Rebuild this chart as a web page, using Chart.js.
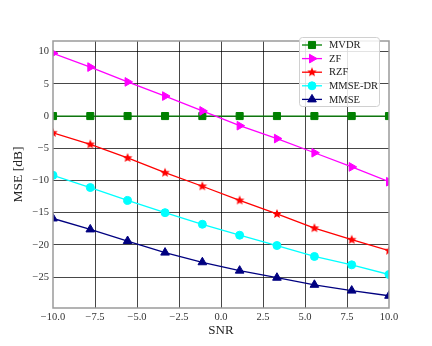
<!DOCTYPE html>
<html>
<head>
<meta charset="utf-8">
<script src="https://cdn.jsdelivr.net/npm/chart.js@4.4.0/dist/chart.umd.min.js"></script>
<style>
  body { margin: 0; background: #fff; }
  #wrap { width: 432px; height: 346px; }
</style>
</head>
<body>
<div id="wrap"><canvas id="mseChart" width="432" height="346"></canvas></div>
<script>
// SNR points and MSE curves
const snr = [-10, -7.78, -5.56, -3.33, -1.11, 1.11, 3.33, 5.56, 7.78, 10];
const mvdr = [0, 0, 0, 0, 0, 0, 0, 0, 0, 0];
const zf = [9.75, 7.6, 5.3, 3.1, 0.8, -1.5, -3.5, -5.7, -7.9, -10.2];
const rzf = [-2.6, -4.4, -6.5, -8.8, -10.9, -13.1, -15.2, -17.4, -19.2, -20.9];
const mmseDr = [-9.2, -11.1, -13.1, -15.0, -16.8, -18.5, -20.1, -21.8, -23.1, -24.6];
const mmse = [-15.9, -17.6, -19.4, -21.2, -22.7, -24.0, -25.1, -26.2, -27.1, -27.9];

const xTicks = [-10, -7.5, -5, -2.5, 0, 2.5, 5, 7.5, 10];
const yTicks = [-25, -20, -15, -10, -5, 0, 5, 10];

const serif = "'Liberation Serif', 'DejaVu Serif', serif";
const minus = s => s.replace('-', '\u2212');

// filled five-point star used as marker for RZF
function makeStar(color, r) {
  const c = document.createElement('canvas');
  const s = Math.ceil(r * 2 + 2);
  c.width = s; c.height = s;
  const g = c.getContext('2d');
  g.beginPath();
  for (let i = 0; i < 10; i++) {
    const rad = i % 2 === 0 ? r : r * 0.45;
    const a = -Math.PI / 2 + i * Math.PI / 5;
    g.lineTo(s / 2 + rad * Math.cos(a), s / 2 + rad * Math.sin(a));
  }
  g.closePath();
  g.fillStyle = color;
  g.fill();
  return c;
}

function series(label, values, color, style, extra) {
  return Object.assign({
    label: label,
    data: values.map((v, i) => ({ x: snr[i], y: v })),
    borderColor: color,
    backgroundColor: color,
    borderWidth: 1.3,
    pointStyle: style,
    pointRadius: 4,
    pointBorderWidth: 1,
    pointBorderColor: color,
    pointBackgroundColor: color,
    clip: 0,
    tension: 0
  }, extra || {});
}

const datasets = [
  series('MVDR', mvdr, '#008000', 'rect', { pointRadius: 5, order: 5 }),
  series('ZF', zf, '#ff00ff', 'triangle', { pointRadius: 5, pointRotation: 90, order: 4 }),
  series('RZF', rzf, '#ff0000', makeStar('#ff0000', 5), { order: 3 }),
  series('MMSE-DR', mmseDr, '#00ffff', 'circle', { order: 2 }),
  series('MMSE', mmse, '#000080', 'triangle', { pointRadius: 5, order: 1 })
];

// clip lines and markers to the plot box, then draw the frame over them
const framePlugin = {
  id: 'frame',
  beforeDatasetsDraw(chart) {
    const { ctx, chartArea: a } = chart;
    ctx.save();
    ctx.beginPath();
    ctx.rect(a.left, a.top, a.right - a.left, a.bottom - a.top);
    ctx.clip();
  },
  afterDatasetsDraw(chart) {
    const { ctx, chartArea: a } = chart;
    ctx.restore();
    ctx.save();
    ctx.strokeStyle = '#9a9a9a';
    ctx.lineWidth = 1.5;
    ctx.strokeRect(a.left, a.top, a.right - a.left, a.bottom - a.top);
    ctx.restore();
  }
};

// legend box inside the upper right corner
const legendPlugin = {
  id: 'insideLegend',
  afterDraw(chart) {
    const { ctx, chartArea: a } = chart;
    const x0 = a.right - 90, y0 = a.top - 4, w = 80, h = 69;
    ctx.save();
    ctx.fillStyle = 'rgba(255,255,255,0.85)';
    ctx.strokeStyle = '#d0d0d0';
    ctx.lineWidth = 1;
    ctx.beginPath();
    ctx.roundRect(x0 + 0.5, y0 + 0.5, w, h, 3);
    ctx.fill();
    ctx.stroke();
    chart.data.datasets.forEach((ds, i) => {
      const y = y0 + 8 + i * 13.6;
      ctx.strokeStyle = ds.borderColor;
      ctx.lineWidth = ds.borderWidth;
      ctx.beginPath();
      ctx.moveTo(x0 + 3, y);
      ctx.lineTo(x0 + 23, y);
      ctx.stroke();
      ctx.fillStyle = ds.pointBackgroundColor;
      ctx.strokeStyle = ds.pointBorderColor;
      ctx.lineWidth = ds.pointBorderWidth;
      Chart.helpers.drawPoint(ctx, {
        pointStyle: ds.pointStyle,
        rotation: ds.pointRotation || 0,
        radius: ds.pointRadius,
        borderWidth: ds.pointBorderWidth
      }, x0 + 13, y);
      ctx.fillStyle = '#222';
      ctx.font = '10.5px ' + serif;
      ctx.textBaseline = 'middle';
      ctx.textAlign = 'left';
      ctx.fillText(ds.label, x0 + 30, y + 0.5);
    });
    ctx.restore();
  }
};

const gridColor = ctx => (ctx.tick && Math.abs(ctx.tick.value) === 10 && ctx.scale.axis === 'x')
  ? 'rgba(0,0,0,0)' : 'rgba(0,0,0,0.72)';

new Chart(document.getElementById('mseChart').getContext('2d'), {
  type: 'line',
  data: { datasets: datasets },
  options: {
    responsive: false,
    animation: false,
    layout: { padding: { top: 41, right: 43, left: 0, bottom: 0 } },
    plugins: { legend: { display: false }, tooltip: { enabled: false } },
    scales: {
      x: {
        type: 'linear',
        min: -10,
        max: 10,
        afterBuildTicks: s => { s.ticks = xTicks.map(v => ({ value: v })); },
        afterFit: s => { s.height = 38; },
        grid: { color: gridColor, lineWidth: 1, drawTicks: false },
        border: { display: false },
        ticks: {
          padding: 3,
          color: '#333',
          font: { family: serif, size: 10.5 },
          callback: v => minus(Number(v).toFixed(1))
        },
        title: {
          display: true,
          text: 'SNR',
          color: '#222',
          font: { family: serif, size: 13 },
          padding: { top: 8, bottom: 8 }
        }
      },
      y: {
        type: 'linear',
        min: -29.8,
        max: 11.65,
        afterBuildTicks: s => { s.ticks = yTicks.map(v => ({ value: v })); },
        afterFit: s => { s.width = 53; },
        grid: { color: gridColor, lineWidth: 1, drawTicks: false },
        border: { display: false },
        ticks: {
          padding: 4,
          color: '#333',
          font: { family: serif, size: 10.5 },
          callback: v => minus(String(v))
        },
        title: {
          display: true,
          text: 'MSE [dB]',
          color: '#222',
          font: { family: serif, size: 13.5 },
          padding: { top: 10, bottom: 0 }
        }
      }
    }
  },
  plugins: [framePlugin, legendPlugin]
});
</script>
</body>
</html>
